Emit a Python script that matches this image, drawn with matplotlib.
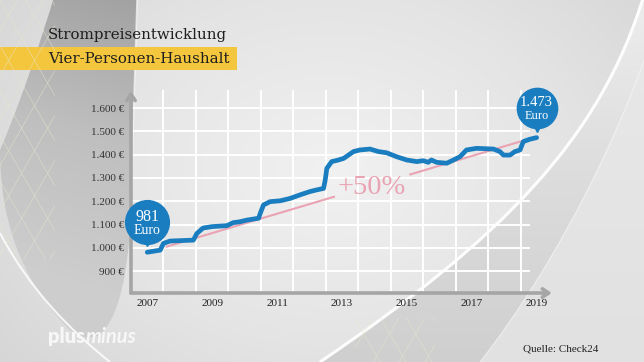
import numpy as np
import matplotlib.pyplot as plt
from matplotlib.path import Path
from matplotlib.patches import PathPatch, Rectangle
from matplotlib.colors import LinearSegmentedColormap
from matplotlib.transforms import offset_copy

# Strompreis Vier-Personen-Haushalt in Euro pro Jahr
jahre = [2007.00, 2007.40, 2007.50, 2007.70, 2008.42, 2008.53, 2008.72, 2009.00,
         2009.45, 2009.65, 2009.86, 2010.07, 2010.43, 2010.48, 2010.58, 2010.78,
         2011.10, 2011.40, 2011.70, 2012.00, 2012.20, 2012.43, 2012.48, 2012.53,
         2012.68, 2012.89, 2013.05, 2013.35, 2013.55, 2013.86, 2014.12, 2014.37,
         2014.68, 2014.99, 2015.30, 2015.50, 2015.65, 2015.75, 2015.91, 2016.22,
         2016.43, 2016.63, 2016.83, 2017.14, 2017.66, 2017.86, 2017.97, 2018.17,
         2018.32, 2018.48, 2018.58, 2018.78, 2018.99]
preise = [981, 990, 1019, 1029, 1033, 1062, 1085, 1091,
          1095, 1108, 1112, 1119, 1127, 1148, 1184, 1198,
          1202, 1212, 1227, 1241, 1248, 1255, 1291, 1341,
          1370, 1377, 1384, 1413, 1420, 1424, 1413, 1408,
          1391, 1377, 1370, 1374, 1367, 1377, 1367, 1363,
          1377, 1391, 1420, 1427, 1424, 1413, 1398, 1398,
          1413, 1420, 1456, 1466, 1473]

# Trendlinie (+50 %), mit Luecke fuer die Beschriftung
trend_a_x = [2007.6, 2012.75]
trend_a_y = [1005, 1219]
trend_b_x = [2015.1, 2018.48]
trend_b_y = [1315, 1456]

y_ticks = [900, 1000, 1100, 1200, 1300, 1400, 1500, 1600]
y_labels = ['900 €', '1.000 €', '1.100 €', '1.200 €', '1.300 €', '1.400 €', '1.500 €', '1.600 €']
x_ticks = [2007, 2009, 2011, 2013, 2015, 2017, 2019]
x_labels = ['2007', '2009', '2011', '2013', '2015', '2017', '2019']
grid_x = [2007.5 + i for i in range(12)]

BLUE = '#1a7dbf'
PINK = '#eaa3b3'
AXIS = '#a5a5a5'
SERIF = ['Liberation Serif', 'DejaVu Serif']
TITLE = ['DejaVu Serif']

fig = plt.figure(figsize=(6.44, 3.62), dpi=100)

# --- Hintergrund (Pixelkoordinaten, y nach unten) ---
bg = fig.add_axes([0, 0, 1, 1], zorder=0)
bg.set_xlim(0, 644)
bg.set_ylim(362, 0)
bg.axis('off')
yy, xx = np.mgrid[0:362, 0:644]
EXT = (0, 644, 362, 0)

d = np.hypot((xx - 330) / 430.0, (yy - 170) / 320.0)
cmap = LinearSegmentedColormap.from_list('bg', ['#f1f1f1', '#e4e4e4', '#d2d2d2'])
bg.imshow(d, cmap=cmap, extent=EXT, vmin=0, vmax=1.1, aspect='auto')

M, C, L, Z = Path.MOVETO, Path.CURVE4, Path.LINETO, Path.CLOSEPOLY


def grad_fill(pts, codes, field, colors, vmin, vmax):
    clip = PathPatch(Path(pts, codes), fc='none', ec='none', transform=bg.transData)
    bg.add_patch(clip)
    cm = LinearSegmentedColormap.from_list('g', colors)
    im = bg.imshow(field, cmap=cm, extent=EXT, vmin=vmin, vmax=vmax, aspect='auto')
    im.set_clip_path(clip)


def stroke(pts, codes, **kw):
    bg.add_patch(PathPatch(Path(pts, codes), fc='none', **kw))


# Dreiecksmuster (sehr dezent)
def muster(x0, y0, w, h, step=26):
    clip = Rectangle((x0, y0), w, h, fc='none', ec='none', transform=bg.transData)
    bg.add_patch(clip)
    k = np.sqrt(3)
    xs = np.array([x0 - 200, x0 + w + 200])
    lines = []
    for c in np.arange(-600, 900, step * k):
        lines.append(bg.plot(xs, k * (xs - x0) + y0 + c - 300, color='#e9e7cf', lw=0.5, alpha=0.6)[0])
        lines.append(bg.plot(xs, -k * (xs - x0) + y0 + c, color='#e9e7cf', lw=0.5, alpha=0.6)[0])
    for ln in lines:
        ln.set_clip_path(clip)


muster(0, 0, 55, 260)
muster(355, 318, 80, 44)

# linkes graues Band
band = [(53, 0), (137, 0), (131, 200), (130, 290), (110, 362),
        (70, 330), (30, 290), (0, 233), (0, 150), (30, 80), (53, 0), (53, 0)]
band_c = [M, L, L, C, C, C, C, C, L, C, C, Z]
grad_fill(band, band_c, yy + 0.3 * (140 - xx), ['#a2a2a2', '#bfbfbf', '#cdcdcd'], 0, 300)
stroke([(0, 233), (30, 290), (70, 330), (110, 362)], [M, C, C, C],
       ec='white', lw=1.4, alpha=0.85)
stroke([(137, 0), (131, 200)], [M, L], ec='white', lw=1.2, alpha=0.6)

# Schwung rechts: Keil zwischen zwei Boegen
arc1 = [(644, -5), (600, 140), (500, 240), (320, 362)]
arc2 = [(480, 362), (560, 260), (620, 130), (644, 60)]
grad_fill(arc1 + arc2 + [(644, -5)], [M, C, C, C, L, C, C, C, Z],
          yy.astype(float), ['#ededed', '#dcdcdc', '#cfcfcf'], 0, 362)
grad_fill(arc2 + [(644, 362), (480, 362)], [M, C, C, C, L, Z],
          yy.astype(float), ['#e9e9e9', '#e1e1e1'], 0, 362)
stroke(arc1, [M, C, C, C], ec='white', lw=2.2, alpha=0.95)
stroke(arc2, [M, C, C, C], ec='white', lw=0.8, alpha=0.5)

bg.set_xlim(0, 644)
bg.set_ylim(362, 0)

# Titel
bg.add_patch(Rectangle((0, 47), 237, 23, fc='#f4c63d', ec='none'))
bg.text(48, 35, 'Strompreisentwicklung', family=TITLE, fontsize=10.8,
        color='#1e1e1e', va='center', ha='left')
bg.text(48, 59, 'Vier-Personen-Haushalt', family=TITLE, fontsize=10.8,
        color='#1e1e1e', va='center', ha='left')
t_plus = bg.text(48, 337, 'plus', family=['Lato', 'DejaVu Sans'], fontsize=14.5,
                 weight='heavy', color='#f7f7f7', va='center', ha='left')
fig.canvas.draw()
bb = t_plus.get_window_extent().transformed(bg.transData.inverted())
bg.text(bb.x1, 337, 'minus', family=['Lato', 'DejaVu Sans'], fontsize=14.5,
        weight='bold', style='italic', color='#f7f7f7', va='center', ha='left')
bg.text(523, 349, 'Quelle: Check24', family=SERIF, fontsize=8,
        color='#222222', va='center', ha='left')

# --- Diagramm ---
ax = fig.add_axes([131 / 644, 69 / 362, 429 / 644, 205 / 362], zorder=1)
ax.set_facecolor('none')
ax.set_xlim(2006.5, 2019.71)
ax.set_ylim(806, 1686)
for s in ax.spines.values():
    s.set_visible(False)

ax.hlines(y_ticks, 2006.5, 2018.78, color='white', lw=1.4, zorder=1)
ax.vlines(grid_x, 806, 1678, color='white', lw=1.4, zorder=1)

ax.set_yticks(y_ticks)
ax.set_yticklabels(y_labels, family=SERIF, fontsize=8, color='#333333')
ax.set_xticks(x_ticks)
ax.set_xticklabels(x_labels, family=SERIF, fontsize=8, color='#222222')
ax.tick_params(length=0)
ax.tick_params(axis='y', pad=5)
ax.tick_params(axis='x', pad=4)

arrow = dict(arrowstyle='->,head_length=0.45,head_width=0.3', color=AXIS, lw=2.6,
             shrinkA=0, shrinkB=0)
ax.annotate('', xy=(0, 0.985), xytext=(0, 0), xycoords='axes fraction',
            arrowprops=arrow, annotation_clip=False)
ax.annotate('', xy=(0.981, 0), xytext=(0, 0), xycoords='axes fraction',
            arrowprops=arrow, annotation_clip=False)

ax.plot(trend_a_x, trend_a_y, color=PINK, lw=1.5, zorder=2)
ax.plot(trend_b_x, trend_b_y, color=PINK, lw=1.5, zorder=2)
ax.text(2013.9, 1257, '+50%', family=SERIF, fontsize=20.5, color=PINK,
        ha='center', va='center', zorder=2)

ax.plot(jahre, preise, color=BLUE, lw=3.4, solid_capstyle='round',
        solid_joinstyle='round', zorder=3)

# Sprechblasen
for x, y, top, size, fs in [(jahre[0], preise[0], '981', 31.5, 11.5),
                            (jahre[-1], preise[-1], '1.473', 29, 10.5)]:
    tr = offset_copy(ax.transData, fig=fig, x=0, y=21.5, units='points')
    tr_p = offset_copy(ax.transData, fig=fig, x=0, y=6.5, units='points')
    ax.plot(x, y, 'o', ms=size, color=BLUE, transform=tr, zorder=4, clip_on=False)
    ax.plot(x, y, 'v', ms=5, color=BLUE, transform=tr_p, zorder=4, clip_on=False)
    ax.text(x, y, top, transform=offset_copy(ax.transData, fig=fig, x=0, y=25.5, units='points'),
            family=SERIF, fontsize=fs, color='white', ha='center', va='center', zorder=5)
    ax.text(x, y, 'Euro', transform=offset_copy(ax.transData, fig=fig, x=0, y=15.5, units='points'),
            family=SERIF, fontsize=fs - 1.5, color='white', ha='center', va='center', zorder=5)

fig.savefig('out.png', dpi=100)
